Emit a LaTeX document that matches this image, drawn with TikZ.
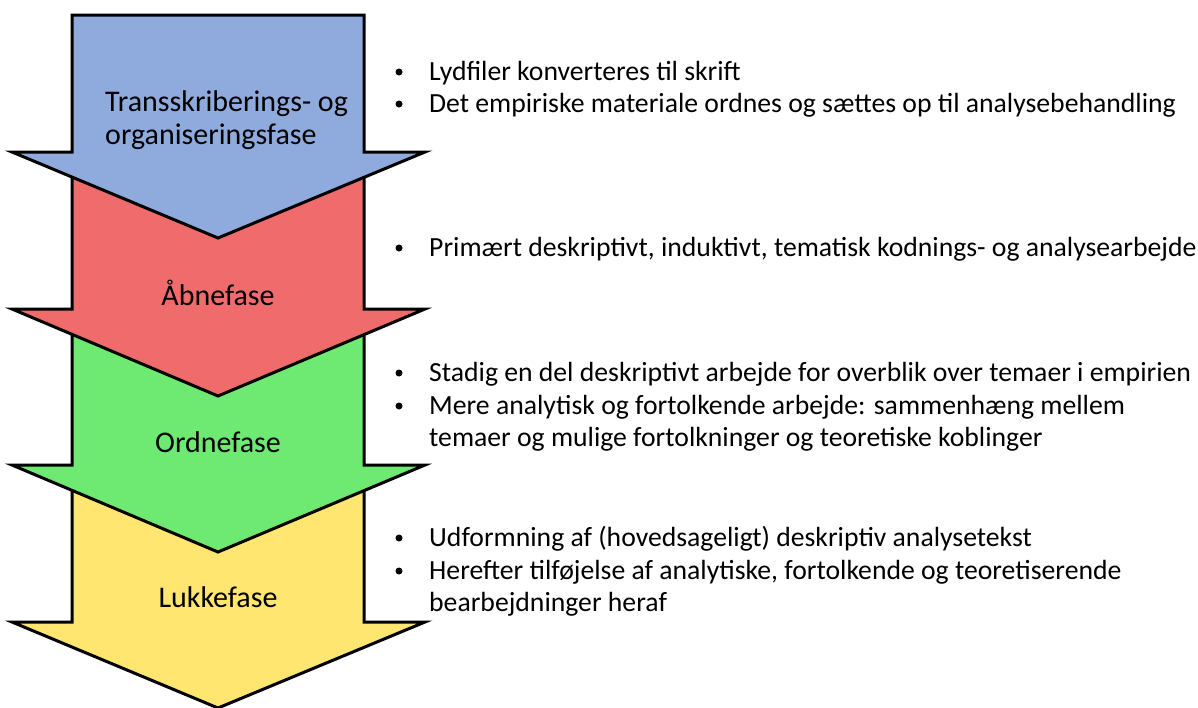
\documentclass[tikz,border=0pt]{standalone}
\usepackage{fontspec}
\setmainfont{Carlito}
\definecolor{phaseblue}{RGB}{143,170,220}
\definecolor{phasered}{RGB}{240,107,107}
\definecolor{phasegreen}{RGB}{110,234,114}
\definecolor{phaseyellow}{RGB}{255,230,112}
\begin{document}
\begin{tikzpicture}[
    x=1pt, y=-1pt,
    arrowshape/.style={draw=black, line width=3pt, line join=miter},
    phase/.style={font=\fontsize{30}{33}\selectfont, align=left, inner sep=0pt},
    item/.style={anchor=base west, align=left, inner sep=0pt, font=\fontsize{27.7}{32}\selectfont},
    dot/.style={circle, fill=black, inner sep=0pt, minimum size=7pt},
]
\useasboundingbox (0,0) rectangle (1198,707);

% Arrows, bottom one first
\filldraw[arrowshape, fill=phaseyellow] (72,480) -- (72,622) -- (12,622) -- (218,708) -- (425,622) -- (364,622) -- (364,480) -- cycle;
\filldraw[arrowshape, fill=phasegreen] (72,325) -- (72,465) -- (12,465) -- (218,552) -- (425,465) -- (364,465) -- (364,325) -- cycle;
\filldraw[arrowshape, fill=phasered] (72,165) -- (72,309) -- (12,309) -- (218,396) -- (425,309) -- (364,309) -- (364,165) -- cycle;
\filldraw[arrowshape, fill=phaseblue] (72,15) -- (72,152) -- (12,152) -- (218,238) -- (425,152) -- (364,152) -- (364,15) -- cycle;

% Phase names
\node[phase, anchor=base west] (trans) at (105,144) {Transskriberings- og\\organiseringsfase};
\node[phase, anchor=base] (aabne) at (218,305) {Åbnefase};
\node[phase, anchor=base] (ordne) at (218,452) {Ordnefase};
\node[phase, anchor=base] (lukke) at (218,607) {Lukkefase};

% Bullet points (multi-line ones sit on their last line)
\node[item] (lyd) at (429,80) {Lydfiler konverteres til skrift};
\node[item] (emp) at (429,112) {Det empiriske materiale ordnes og sættes op til analysebehandling};
\node[item] (prim) at (429,256) {Primært deskriptivt, induktivt, tematisk kodnings- og analysearbejde};
\node[item] (stadig) at (429,381) {Stadig en del deskriptivt arbejde for overblik over temaer i empirien};
\node[item] (mere) at (429,446) {Mere analytisk og fortolkende arbejde: sammenhæng mellem\\temaer og mulige fortolkninger og teoretiske koblinger};
\node[item] (udform) at (429,546) {Udformning af (hovedsageligt) deskriptiv analysetekst};
\node[item] (heref) at (429,611) {Herefter tilføjelse af analytiske, fortolkende og teoretiserende\\bearbejdninger heraf};

\foreach \n in {lyd, emp, prim, stadig, udform}
    \node[dot] at ([xshift=-30pt, yshift=8pt]\n.base west) {};
\foreach \n in {mere, heref}
    \node[dot] at ([xshift=-30pt, yshift=40pt]\n.base west) {};

\end{tikzpicture}
\end{document}
